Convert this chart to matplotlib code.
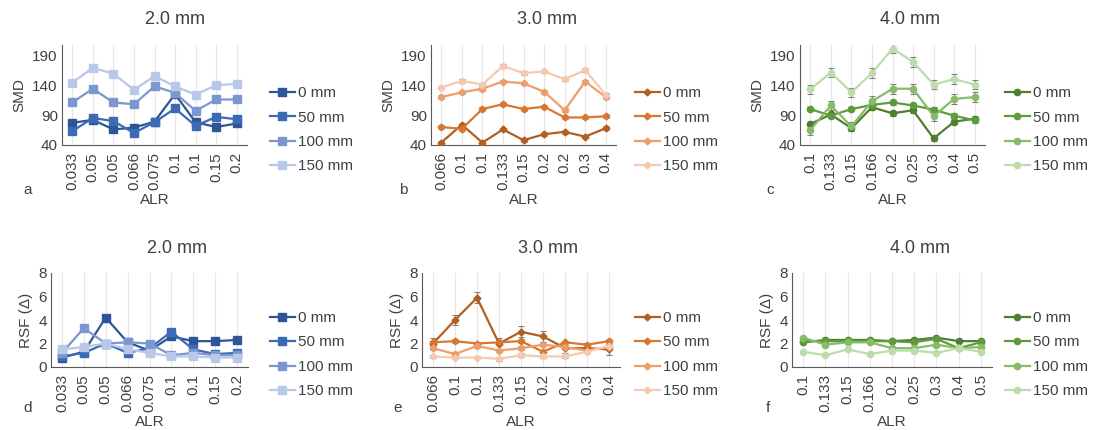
import matplotlib.pyplot as plt

plt.rcParams['font.family'] = ['Liberation Sans', 'DejaVu Sans']

series = ["0 mm", "50 mm", "100 mm", "150 mm"]

alr_2 = ["0.033", "0.05", "0.05", "0.066", "0.075", "0.1", "0.1", "0.15", "0.2"]
alr_3 = ["0.066", "0.1", "0.1", "0.133", "0.15", "0.2", "0.2", "0.3", "0.4"]
alr_4 = ["0.1", "0.133", "0.15", "0.166", "0.2", "0.25", "0.3", "0.4", "0.5"]

# SMD values
smd_2 = [
    [77, 82, 66, 69, 79, 125, 78, 70, 76],
    [63, 85, 80, 60, 78, 101, 72, 87, 83],
    [111, 134, 111, 108, 138, 127, 97, 116, 116],
    [144, 169, 159, 132, 155, 138, 124, 140, 142],
]
smd_3 = [
    [44, 74, 44, 66, 48, 58, 62, 54, 68],
    [70, 67, 100, 108, 100, 104, 86, 86, 88],
    [120, 128, 134, 146, 143, 129, 98, 146, 120],
    [136, 147, 141, 172, 160, 163, 150, 165, 124],
]
smd_3_err = [3, 3, 3, 3]
smd_4 = [
    [75, 91, 68, 103, 93, 98, 51, 79, 84],
    [100, 89, 100, 107, 111, 106, 99, 89, 81],
    [65, 106, 71, 113, 134, 134, 88, 117, 120],
    [133, 161, 128, 160, 201, 179, 141, 150, 141],
]
smd_4_err = [4, 4, 8, 8]

# RSF values
rsf_2 = [
    [0.8, 1.3, 4.2, 2.1, 1.4, 2.6, 2.2, 2.2, 2.3],
    [0.9, 1.2, 2.0, 1.2, 1.6, 3.0, 1.5, 1.1, 1.2],
    [1.2, 3.3, 2.0, 2.1, 2.0, 1.0, 1.2, 1.0, 1.0],
    [1.5, 1.7, 2.0, 1.5, 1.2, 0.9, 0.9, 0.8, 0.8],
]
rsf_3 = [
    [2.0, 4.0, 5.9, 2.0, 3.0, 2.6, 1.6, 1.6, 1.5],
    [2.1, 2.2, 2.0, 2.1, 2.2, 1.3, 2.1, 1.9, 2.2],
    [1.6, 1.1, 1.8, 1.4, 1.6, 1.9, 1.7, 1.4, 1.7],
    [0.9, 0.8, 0.8, 0.7, 1.0, 0.9, 0.9, 1.3, 1.8],
]
rsf_3_err = [0.45, 0.15, 0.15, 0.15]
rsf_4 = [
    [2.1, 2.3, 2.3, 2.3, 2.2, 2.3, 2.5, 2.2, 2.2],
    [2.2, 2.2, 2.2, 2.2, 2.2, 2.1, 2.4, 1.6, 2.1],
    [2.5, 1.9, 2.1, 2.1, 1.6, 1.6, 1.9, 1.6, 1.7],
    [1.3, 1.0, 1.5, 1.1, 1.4, 1.4, 1.2, 1.6, 1.3],
]

blues = ["#2e5596", "#3d6ab4", "#7b97d0", "#b9c7e8"]
oranges = ["#b35f20", "#d9772f", "#ee9e6c", "#f6c9b0"]
greens = ["#4d7f31", "#5e9c3b", "#86bb68", "#bcdcab"]

W, H = 1094, 430
FS = 11
fig = plt.figure(figsize=(W / 100, H / 100), dpi=100)


def px_axes(l, t, r, b):
    return fig.add_axes([l / W, 1 - b / H, (r - l) / W, (b - t) / H])


def panel(box, labels, data, colors, marker, ms, ylim, yticks, ylabel,
          title, title_xy, letter, letter_xy, legend_xy, err=None):
    ax = px_axes(*box)
    x = list(range(len(labels)))
    for i, vals in enumerate(data):
        if err is not None:
            ax.errorbar(x, vals, yerr=err[i], fmt="none", ecolor="#7f7f7f",
                        elinewidth=0.8, capsize=2, capthick=0.8, zorder=2)
        ax.plot(x, vals, color=colors[i], marker=marker, ms=ms, lw=1.6,
                label=series[i], zorder=3)
    ax.set_xlim(-0.5, len(labels) - 0.5)
    ax.set_ylim(*ylim)
    ax.set_yticks(yticks)
    ax.set_xticks(x)
    ax.set_xticklabels(labels, rotation=90, fontsize=FS, color="#404040")
    ax.tick_params(axis="y", labelsize=FS, colors="#404040", length=0, pad=3)
    ax.tick_params(axis="x", length=0, pad=5)
    for xi in x:
        ax.axvline(xi, color="#e6e6e6", lw=0.8, zorder=0)
    for s in ["top", "right"]:
        ax.spines[s].set_visible(False)
    ax.spines["left"].set_color("#595959")
    ax.spines["bottom"].set_color("#595959")
    ax.set_ylabel(ylabel, fontsize=FS, color="#404040", labelpad=4)
    ax.set_xlabel("ALR", fontsize=FS, color="#404040", labelpad=2)
    fig.text(title_xy[0] / W, 1 - title_xy[1] / H, title, fontsize=13,
             ha="center", va="center", color="#404040")
    fig.text(letter_xy[0] / W, 1 - letter_xy[1] / H, letter, fontsize=FS,
             ha="center", va="center", color="#404040")
    ax.legend(loc="upper left", bbox_to_anchor=(legend_xy[0] / W, 1 - legend_xy[1] / H),
              bbox_transform=fig.transFigure, frameon=False, fontsize=FS,
              handlelength=1.6, handletextpad=0.2, labelspacing=0.68,
              borderaxespad=0, labelcolor="#404040")
    return ax


smd_ticks = [40, 90, 140, 190]
rsf_ticks = [0, 2, 4, 6, 8]

panel((62, 45, 247, 145), alr_2, smd_2, blues, "s", 5.5, (40, 207), smd_ticks,
      "SMD", "2.0 mm", (175, 20), "a", (28, 190), (264, 80))
panel((431, 45, 616, 145), alr_3, smd_3, oranges, "D", 3.5, (40, 207), smd_ticks,
      "SMD", "3.0 mm", (547, 20), "b", (403, 190), (629, 80),
      err=[[e] * 9 for e in smd_3_err])
panel((800, 45, 985, 145), alr_4, smd_4, greens, "o", 4.5, (40, 207), smd_ticks,
      "SMD", "4.0 mm", (910, 20), "c", (770, 190), (999, 80),
      err=[[e] * 9 for e in smd_4_err])
panel((51, 273, 248, 367), alr_2, rsf_2, blues, "s", 5.5, (0, 8), rsf_ticks,
      "RSF (Δ)", "2.0 mm", (177, 248), "d", (28, 408), (264, 305))
panel((422, 273, 620, 367), alr_3, rsf_3, oranges, "D", 3.5, (0, 8), rsf_ticks,
      "RSF (Δ)", "3.0 mm", (548, 248), "e", (398, 408), (629, 305),
      err=[[e] * 9 for e in rsf_3_err])
panel((792, 273, 992, 367), alr_4, rsf_4, greens, "o", 4.5, (0, 8), rsf_ticks,
      "RSF (Δ)", "4.0 mm", (920, 248), "f", (768, 408), (999, 305))

fig.savefig("out.png", dpi=100)
